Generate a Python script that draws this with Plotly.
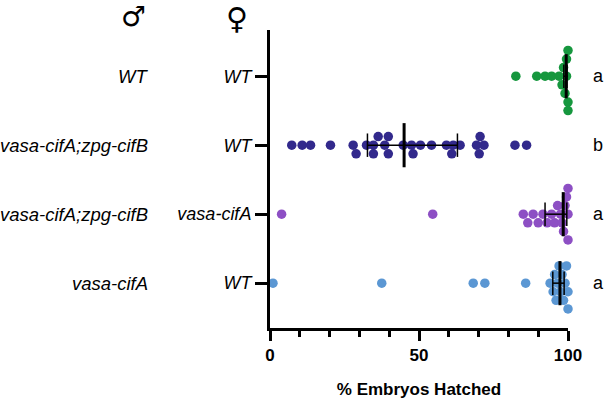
import plotly.graph_objects as go

# ---- data ----
male_labels = ["vasa-cifA", "vasa-cifA;zpg-cifB", "vasa-cifA;zpg-cifB", "WT"]
female_labels = ["WT", "vasa-cifA", "WT", "WT"]
letters = ["a", "a", "b", "a"]
colors = ["#5B97D3", "#8D4FC4", "#32298C", "#16973E"]

hatch_vasaA_x_WT = [1.0, 37.5, 68.2, 72.1, 85.8, 94.0, 95.0, 95.5, 96.0, 96.5, 97.0,
                    97.5, 98.0, 98.5, 99.0, 99.5, 100.0, 100.0]
hatch_AB_x_vasaA = [3.9, 54.6, 85.0, 86.5, 88.3, 90.0, 91.6, 93.0, 94.5, 95.5, 96.5,
                    97.5, 98.0, 98.5, 99.0, 99.5, 100.0, 100.0, 100.0]
hatch_AB_x_WT = [7.3, 10.8, 13.6, 20.3, 27.9, 28.9, 32.4, 34.7, 34.7, 36.3, 38.5,
                 39.7, 39.7, 44.7, 47.5, 48.0, 50.5, 54.2, 59.2, 61.0, 61.5, 63.8,
                 69.3, 70.2, 70.5, 71.8, 82.2, 86.1]
hatch_WT_x_WT = [82.5, 89.5, 92.3, 94.5, 97.0, 98.0, 98.5, 99.0, 99.5, 99.5, 100.0,
                 100.0, 100.0]
groups = [hatch_vasaA_x_WT, hatch_AB_x_vasaA, hatch_AB_x_WT, hatch_WT_x_WT]

medians = [97.3, 98.4, 45.0, 99.4]
q1 = [94.9, 92.3, 32.7, 98.6]
q3 = [98.7, 99.6, 62.9, 100.0]

# ---- layout geometry ----
W, H = 604, 400
ML, MR, MT, MB = 270, 36, 30, 72
XR = [0, 100]
YR = [-0.65, 3.67]
px_x = (W - ML - MR) / (XR[1] - XR[0])
px_y = (H - MT - MB) / (YR[1] - YR[0])
lane_px = 8.6
min_dx_px = 6.0


def swarm(values):
    placed = []
    order = sorted(range(len(values)), key=lambda i: values[i])
    res = [0.0] * len(values)
    cand = [0]
    for n in range(1, 12):
        cand += [-n, n]
    for i in order:
        xp = values[i] * px_x
        for k in cand:
            if all(not (pk == k and abs(xp - pxp) < min_dx_px) for pxp, pk in placed):
                break
        placed.append((xp, k))
        res[i] = k * lane_px / px_y
    return res


fig = go.Figure()
for gi, vals in enumerate(groups):
    offs = swarm(vals)
    fig.add_trace(go.Scatter(
        x=vals, y=[gi + o for o in offs], mode="markers",
        marker=dict(size=9.5, color=colors[gi], line=dict(width=0)),
        cliponaxis=False, showlegend=False, hoverinfo="x"))

shapes = []
for gi in range(4):
    shapes.append(dict(type="line", xref="x", yref="y", x0=medians[gi], x1=medians[gi],
                       y0=gi - 0.32, y1=gi + 0.32, line=dict(color="black", width=3)))
    shapes.append(dict(type="line", xref="x", yref="y", x0=q1[gi], x1=q3[gi],
                       y0=gi, y1=gi, line=dict(color="black", width=1.5)))
    for q in (q1[gi], q3[gi]):
        shapes.append(dict(type="line", xref="x", yref="y", x0=q, x1=q,
                           y0=gi - 0.17, y1=gi + 0.17, line=dict(color="black", width=1.5)))

FONT = "Liberation Sans, Arial, Helvetica, sans-serif"
annotations = []
for gi in range(4):
    annotations.append(dict(xref="paper", yref="y", x=0, y=gi, xanchor="right", yanchor="middle",
                            xshift=-120, text="<i>%s</i>" % male_labels[gi], showarrow=False,
                            font=dict(family=FONT, size=18.5, color="black")))
    annotations.append(dict(xref="paper", yref="y", x=1, y=gi, xanchor="left", yanchor="middle",
                            xshift=23, text=letters[gi], showarrow=False,
                            font=dict(family=FONT, size=18, color="black")))
annotations.append(dict(xref="paper", yref="paper", x=0, y=1, xanchor="center", yanchor="middle",
                        xshift=-137, yshift=14, text="\u2642", showarrow=False,
                        font=dict(family="DejaVu Sans", size=28, color="black")))
annotations.append(dict(xref="paper", yref="paper", x=0, y=1, xanchor="center", yanchor="middle",
                        xshift=-33, yshift=12, text="\u2640", showarrow=False,
                        font=dict(family="DejaVu Sans", size=30, color="black")))

fig.update_layout(
    width=W, height=H,
    margin=dict(l=ML, r=MR, t=MT, b=MB, autoexpand=False),
    paper_bgcolor="white", plot_bgcolor="white",
    font=dict(family=FONT, color="black"),
    shapes=shapes, annotations=annotations,
    xaxis=dict(range=XR, automargin=False, showgrid=False, zeroline=False, showline=True,
               linecolor="black", linewidth=3, ticks="outside", ticklen=10, tickwidth=2.5,
               tickcolor="black", tickvals=[0, 50, 100], ticktext=["0", "50", "100"],
               tickfont=dict(size=17, weight="bold"),
               minor=dict(ticks="outside", ticklen=6, tickwidth=2.5, tickcolor="black",
                          dtick=10, tick0=0, showgrid=False),
               title=dict(text="% Embryos Hatched", font=dict(size=17, weight="bold"), standoff=19)),
    yaxis=dict(range=YR, automargin=False, showgrid=False, zeroline=False, showline=True,
               linecolor="black", linewidth=3, ticks="outside", ticklen=12, tickwidth=2.5,
               tickcolor="black", tickvals=[0, 1, 2, 3],
               ticktext=["<i>%s</i>" % t for t in female_labels],
               tickfont=dict(size=18)),
)
fig.write_html("out.html", config={"displayModeBar": False},
               post_script="document.body.style.margin='0px';document.body.style.overflow='hidden';")
